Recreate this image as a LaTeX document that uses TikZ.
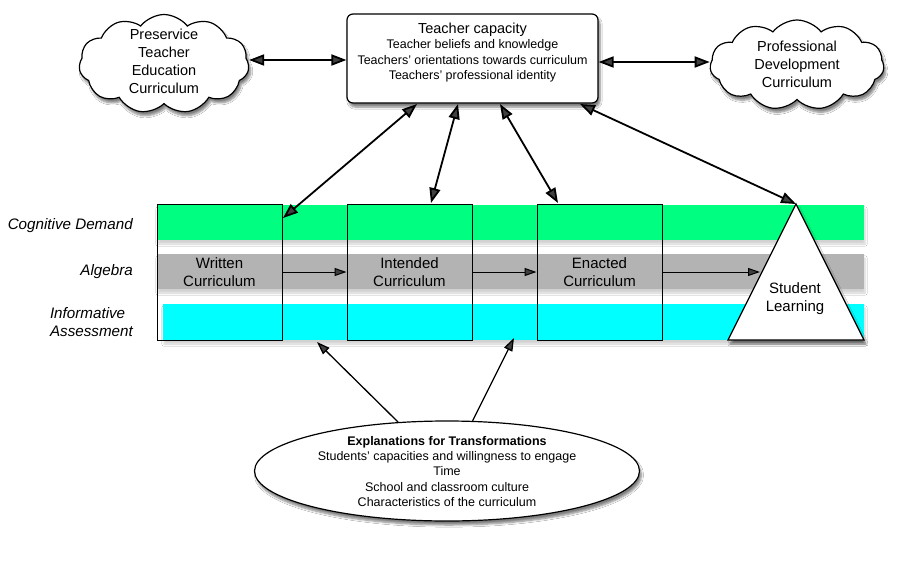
\documentclass[tikz,border=0pt]{standalone}
\usepackage{fontspec}
\setmainfont{Liberation Sans}
\usetikzlibrary{shapes.symbols,shapes.geometric,shadows.blur,arrows.meta,calc}
\definecolor{bandgreen}{RGB}{0,255,128}
\definecolor{bandgrey}{RGB}{179,179,179}
\definecolor{bandcyan}{RGB}{0,255,255}
\begin{document}
\begin{tikzpicture}[x=1pt,y=-1pt,
  big/.style={font=\fontsize{14.5}{18}\selectfont},
  small/.style={font=\fontsize{12.5}{15.3}\selectfont},
  shad/.style={blur shadow={shadow xshift=2pt,shadow yshift=-4pt,shadow blur steps=6,shadow opacity=50}},
  lightshad/.style={blur shadow={shadow xshift=1pt,shadow yshift=-4pt,shadow blur steps=6,shadow opacity=18}},
  cloudnode/.style={cloud,cloud puffs=11,cloud puff arc=105,draw,line width=1.2pt,fill=white,shad,inner sep=0pt},
  dbl/.style={{Triangle[length=15pt,width=11pt]}-{Triangle[length=15pt,width=11pt]},line width=1.8pt},
  sgl/.style={-{Triangle[length=13pt,width=9pt]},line width=1.3pt},
  flow/.style={-{Triangle[length=12pt,width=8pt]},line width=1pt},
  stagebox/.style={draw,line width=1pt,minimum width=125pt,minimum height=136pt,inner sep=0pt,font=\fontsize{15}{18}\selectfont,align=center},
  bandlabel/.style={font=\fontsize{15.2}{18}\selectfont\itshape,anchor=east,align=left,inner sep=0pt}
]
\useasboundingbox (0,0) rectangle (900,560);
\fill[white] (0,0) rectangle (900,560);

% bands
\fill[bandgreen,lightshad] (157,205) rectangle (864,240);
\fill[bandgrey,lightshad] (157,254) rectangle (864,289);
\fill[bandcyan,lightshad] (163,304) rectangle (864,340);

% band labels
\node[bandlabel] (cdl) at (133,226) {Cognitive Demand};
\node[bandlabel] (algl) at (133,272) {Algebra};
\node[bandlabel] (ial) at (133,322) {Informative\\Assessment};

% stage boxes
\node[stagebox] (wc) at (219.5,272) {Written\\Curriculum};
\node[stagebox] (ic) at (409.5,272) {Intended\\Curriculum};
\node[stagebox] (ec) at (599.5,272) {Enacted\\Curriculum};

% triangle
\coordinate (apex) at (796,204);
\coordinate (tbl) at (728,340);
\coordinate (tbr) at (864,340);
\coordinate (triin) at (760,272);
\draw[fill=white,shad,line width=1.2pt,line join=miter] (apex) -- (tbl) -- (tbr) -- cycle;
\node[font=\fontsize{15}{18}\selectfont,align=center] (sl) at (795,299) {Student\\Learning};

% flow arrows
\draw[flow] (wc.east) -- (ic.west);
\draw[flow] (ic.east) -- (ec.west);
\draw[flow] (ec.east) -- (triin);

% top nodes
\node[cloudnode,minimum width=170pt,minimum height=99pt] (pre) at (164,64) {};
\node[big,align=center,inner sep=0pt] (pret) at (164,61) {Preservice\\Teacher\\Education\\Curriculum};
\node[cloudnode,minimum width=174pt,minimum height=90pt] (pd) at (797,65) {};
\node[big,align=center,inner sep=0pt] (pdt) at (797,64) {Professional\\Development\\Curriculum};
\node[draw,rounded corners=6pt,fill=white,shad,line width=1.2pt,minimum width=251pt,minimum height=89pt,inner sep=0pt] (tc) at (472.5,58.5) {};
\node[small,align=center,inner sep=0pt] (tct) at (472.5,52.5) {{\fontsize{14.5}{17}\selectfont Teacher capacity}\\Teacher beliefs and knowledge\\Teachers' orientations towards curriculum\\Teachers' professional identity};

\coordinate (l1) at (pre.east |- 0,60);
\coordinate (l2) at (tc.west |- 0,60);
\coordinate (r1) at (tc.east |- 0,62);
\coordinate (r2) at (pd.west |- 0,62);
\draw[dbl] (l1) -- (l2);
\draw[dbl] (r1) -- (r2);

% arrows from teacher capacity
\coordinate (a1t) at (417,104);
\coordinate (a1b) at (283,218);
\coordinate (a2t) at (458,104);
\coordinate (a2b) at (431,203);
\coordinate (a3t) at (500,104);
\coordinate (a3b) at (558,203);
\coordinate (a4t) at (580,104);
\draw[dbl] (a1t) -- (a1b);
\draw[dbl] (a2t) -- (a2b);
\draw[dbl] (a3t) -- (a3b);
\draw[dbl] (a4t) -- (apex);

% explanations ellipse
\node[ellipse,draw,fill=white,shad,line width=1.2pt,minimum width=385pt,minimum height=100pt,inner sep=0pt] (expl) at (447,471) {};
\node[small,align=center,inner sep=0pt] (explt) at (447,471.5) {\textbf{Explanations for Transformations}\\Students' capacities and willingness to engage\\Time\\School and classroom culture\\Characteristics of the curriculum};
\coordinate (e1) at (317,342);
\coordinate (e2) at (514,338);
\draw[sgl] (expl.135.6) -- (e1);
\draw[sgl] (expl.63.4) -- (e2);
\end{tikzpicture}
\end{document}
